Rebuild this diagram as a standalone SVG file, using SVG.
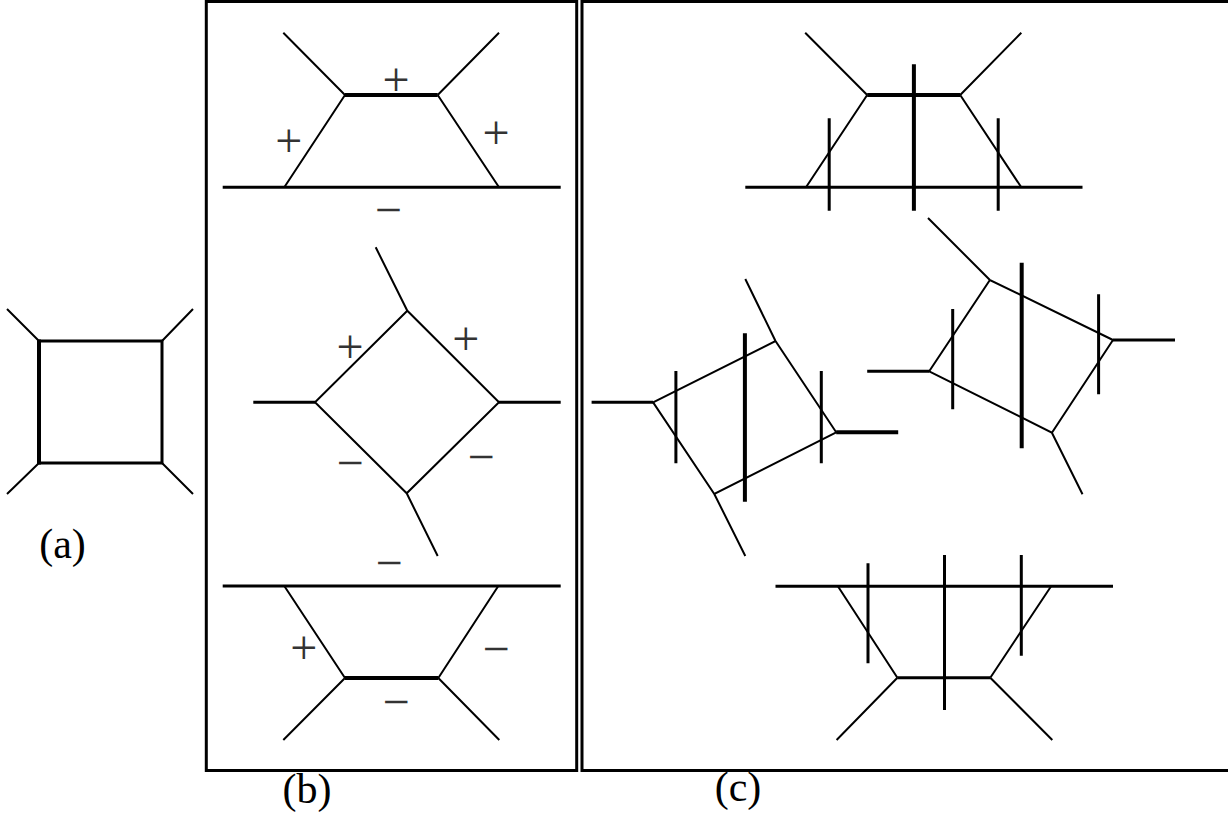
<svg xmlns="http://www.w3.org/2000/svg" width="1228" height="815" viewBox="0 0 1228 815">
<style>
.ln{stroke:#000;fill:none;stroke-linecap:butt}
.t2{stroke-width:2}
.t3{stroke-width:3}
.t4{stroke-width:4}
.frame{stroke:#000;stroke-width:3;fill:none}
.sg{font-family:"Liberation Serif","Times New Roman",serif;font-size:48px;fill:#333;text-anchor:middle}
.lab{font-family:"Liberation Serif","Times New Roman",serif;font-size:42px;fill:#000;text-anchor:middle}
</style>
<rect width="1228" height="815" fill="#fff"/>
<g id="frames">
<rect class="frame" x="206.3" y="1.5" width="370.4" height="769"/>
<path class="frame" d="M1240 1.5 H582 V770.5 H1240"/>
</g>
<g id="diagram-a">
<path class="ln t3" d="M39 341 H162 V463 H39"/>
<path class="ln t4" d="M39 339.5 V464.5"/>
<path class="ln t2" d="M39 341 L7 309 M162 341 L193 309 M39 463 L7 494 M162 463 L193 494"/>
<text class="lab" x="62.5" y="558">(a)</text>
</g>
<g id="diagram-b-top">
<path class="ln t3" d="M222.7 187.3 H560.7"/>
<path class="ln t4" d="M345 95 H437.7"/>
<path class="ln t2" d="M345 95 L284.3 187.3 M437.7 95 L499 187.3 M345 95 L283.3 32.7 M437.7 95 L499 32.7"/>
<text class="sg" x="396" y="96">+</text>
<text class="sg" x="288.7" y="156.7">+</text>
<text class="sg" x="496" y="148.7">+</text>
<text class="sg" x="388.3" y="226.3">−</text>
</g>
<g id="diagram-b-middle">
<path class="ln t2" d="M407.3 310.7 L315 402.3 L406.7 493.3 L499 402.3 Z M407.3 310.7 L375.7 247.3 M406.7 493.3 L437.7 556"/>
<path class="ln t3" d="M253.3 402.3 H315 M499 402.3 H560.7"/>
<text class="sg" x="350" y="363.3">+</text>
<text class="sg" x="465.7" y="355.3">+</text>
<text class="sg" x="350" y="479.3">−</text>
<text class="sg" x="481" y="472.7">−</text>
<text class="sg" x="389" y="579.3">−</text>
</g>
<g id="diagram-b-bottom">
<path class="ln t3" d="M222.7 586 H560.7"/>
<path class="ln t4" d="M345 678 H438.3"/>
<path class="ln t2" d="M345 678 L284.3 586 M438.3 678 L498.3 586 M345 678 L283.3 740 M438.3 678 L499.3 740"/>
<text class="sg" x="303.7" y="664">+</text>
<text class="sg" x="496" y="664.7">−</text>
<text class="sg" x="396" y="717.7">−</text>
<text class="lab" x="307" y="803">(b)</text>
</g>
<g id="diagram-c-top">
<path class="ln t3" d="M745.3 187.3 H1082.5"/>
<path class="ln t4" d="M867.2 95 H960.2"/>
<path class="ln t2" d="M867.2 95 L806 187.3 M960.2 95 L1021.3 187.3 M867.2 95 L805.2 32.7 M960.2 95 L1021.3 32.7"/>
<path class="ln t3" d="M829.2 118.3 V210.7 M998.2 118.3 V210.7"/>
<path class="ln t4" d="M913.9 64.3 V210.7"/>
</g>
<g id="diagram-c-left">
<path class="ln t2" d="M653.1 402.3 L775.5 341 L836.2 432.3 L714.3 494 Z M775.5 341 L745.3 279 M714.3 494 L745.3 556"/>
<path class="ln t3" d="M591.6 402.3 H653.1"/>
<path class="ln t4" d="M836.2 432.3 H898.2"/>
<path class="ln t3" d="M675.9 371 V463.3 M821.3 371 V463.3"/>
<path class="ln t4" d="M744.9 333.3 V501.7"/>
</g>
<g id="diagram-c-right">
<path class="ln t2" d="M929.2 371.3 L989.9 280 L1113 340 L1051.9 432.7 Z M989.9 280 L928 218 M1051.9 432.7 L1082.5 494.3"/>
<path class="ln t3" d="M867.2 371.3 H929.2 M1113 340 H1175"/>
<path class="ln t3" d="M952.7 309 V409.3 M1098.6 294.3 V394.3"/>
<path class="ln t4" d="M1021.7 262.7 V448.3"/>
</g>
<g id="diagram-c-bottom">
<path class="ln t3" d="M775.5 586.3 H1113"/>
<path class="ln t3" d="M897.4 677.7 H990.3"/>
<path class="ln t2" d="M897.4 677.7 L837.9 586.3 M990.3 677.7 L1051.1 586.3 M897.4 677.7 L836.6 740 M990.3 677.7 L1052.3 740"/>
<path class="ln t3" d="M868 563.3 V663.3 M944.5 555 V710 M1021.3 555 V655.7"/>
<text class="lab" x="738" y="801">(c)</text>
</g>
</svg>
